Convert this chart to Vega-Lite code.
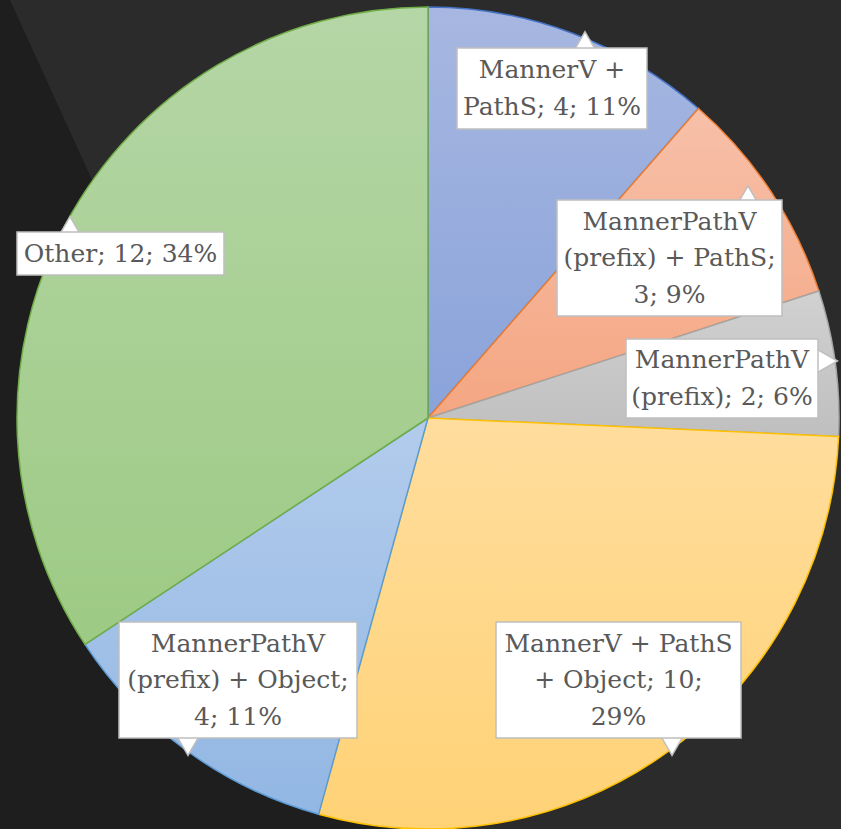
{
  "$schema": "https://vega.github.io/schema/vega-lite/v6.json",
  "width": 822,
  "height": 822,
  "autosize": "none",
  "padding": {"left": 17, "top": 7, "right": 2, "bottom": 0},
  "background": "#1e1e1e",
  "config": {"view": {"stroke": null}},
  "datasets": {
    "bg": [
      {"v": 1.1, "xl": -1.055, "xr": 1.1},
      {"v": -1.1, "xl": -0.051, "xr": 1.1}
    ],
    "slices": [
      {"label": "MannerV + PathS", "count": 4, "order": 1},
      {"label": "MannerPathV (prefix) + PathS", "count": 3, "order": 2},
      {"label": "MannerPathV (prefix)", "count": 2, "order": 3},
      {"label": "MannerV + PathS + Object", "count": 10, "order": 4},
      {"label": "MannerPathV (prefix) + Object", "count": 4, "order": 5},
      {"label": "Other", "count": 12, "order": 6}
    ],
    "boxes": [
      {"id": 1, "x1": 0.0706, "x2": 0.5328, "y1": 0.9002, "y2": 0.7032, "tx": 0.3017, "ty": 0.8461, "text": "MannerV +\nPathS; 4; 11%"},
      {"id": 2, "x1": 0.3139, "x2": 0.8613, "y1": 0.5304, "y2": 0.2482, "tx": 0.5876, "ty": 0.4781, "text": "MannerPathV\n(prefix) + PathS;\n3; 9%"},
      {"id": 3, "x1": 0.4818, "x2": 0.9489, "y1": 0.1922, "y2": 0.0, "tx": 0.7153, "ty": 0.1405, "text": "MannerPathV\n(prefix); 2; 6%"},
      {"id": 4, "x1": -1.0, "x2": -0.4964, "y1": 0.4526, "y2": 0.3479, "tx": -0.7482, "ty": 0.4002, "text": "Other; 12; 34%"},
      {"id": 5, "x1": -0.7518, "x2": -0.1727, "y1": -0.4964, "y2": -0.7786, "tx": -0.4623, "ty": -0.5487, "text": "MannerPathV\n(prefix) + Object;\n4; 11%"},
      {"id": 6, "x1": 0.1655, "x2": 0.7616, "y1": -0.4964, "y2": -0.7786, "tx": 0.4635, "ty": -0.5487, "text": "MannerV + PathS\n+ Object; 10;\n29%"}
    ],
    "pointers": [
      {"id": 1, "px": 0.382, "py": 0.912, "dir": "up"},
      {"id": 2, "px": 0.7786, "py": 0.537, "dir": "up"},
      {"id": 3, "px": 0.9684, "py": 0.1387, "dir": "right"},
      {"id": 4, "px": -0.871, "py": 0.4623, "dir": "up"},
      {"id": 5, "px": -0.584, "py": -0.7932, "dir": "down"},
      {"id": 6, "px": 0.5937, "py": -0.7932, "dir": "down"}
    ]
  },
  "layer": [
    {
      "data": {"name": "bg"},
      "mark": {"type": "area", "orient": "horizontal", "color": "#2b2b2b", "clip": false},
      "encoding": {
        "y": {"field": "v", "type": "quantitative", "scale": {"domain": [-1, 1], "nice": false, "zero": false}, "axis": null},
        "x": {"field": "xl", "type": "quantitative", "scale": {"domain": [-1, 1], "nice": false, "zero": false}, "axis": null},
        "x2": {"field": "xr"}
      }
    },
    {
      "data": {"name": "slices"},
      "transform": [
        {"stack": "count", "groupby": [], "sort": [{"field": "order", "order": "ascending"}], "as": ["t0", "t1"]}
      ],
      "encoding": {
        "theta": {"field": "t0", "type": "quantitative", "scale": {"domain": [0, 35]}},
        "theta2": {"field": "t1"}
      },
      "layer": [
        {
          "transform": [{"filter": "datum.order == 1"}],
          "mark": {"type": "arc", "strokeWidth": 1.5, "stroke": "#4472c4",
            "fill": {"gradient": "linear", "x1": 0, "y1": 0, "x2": 0, "y2": 1, "stops": [{"offset": 0, "color": "#a7b7e1"}, {"offset": 1, "color": "#8aa3da"}]}}
        },
        {
          "transform": [{"filter": "datum.order == 2"}],
          "mark": {"type": "arc", "strokeWidth": 1.5, "stroke": "#ed7d31",
            "fill": {"gradient": "linear", "x1": 0, "y1": 0, "x2": 0, "y2": 1, "stops": [{"offset": 0, "color": "#f7c0a9"}, {"offset": 1, "color": "#f4a682"}]}}
        },
        {
          "transform": [{"filter": "datum.order == 3"}],
          "mark": {"type": "arc", "strokeWidth": 1.5, "stroke": "#a5a5a5",
            "fill": {"gradient": "linear", "x1": 0, "y1": 0, "x2": 0, "y2": 1, "stops": [{"offset": 0, "color": "#d1d1d1"}, {"offset": 1, "color": "#bfbfbf"}]}}
        },
        {
          "transform": [{"filter": "datum.order == 4"}],
          "mark": {"type": "arc", "strokeWidth": 1.5, "stroke": "#ffc000",
            "fill": {"gradient": "linear", "x1": 0, "y1": 0, "x2": 0, "y2": 1, "stops": [{"offset": 0, "color": "#ffdd9d"}, {"offset": 1, "color": "#ffd276"}]}}
        },
        {
          "transform": [{"filter": "datum.order == 5"}],
          "mark": {"type": "arc", "strokeWidth": 1.5, "stroke": "#5b9bd5",
            "fill": {"gradient": "linear", "x1": 0, "y1": 0, "x2": 0, "y2": 1, "stops": [{"offset": 0, "color": "#b3ccec"}, {"offset": 1, "color": "#92b7e3"}]}}
        },
        {
          "transform": [{"filter": "datum.order == 6"}],
          "mark": {"type": "arc", "strokeWidth": 1.5, "stroke": "#70ad47",
            "fill": {"gradient": "linear", "x1": 0, "y1": 0, "x2": 0, "y2": 1, "stops": [{"offset": 0, "color": "#b5d6a6"}, {"offset": 1, "color": "#9dca84"}]}}
        }
      ]
    },
    {
      "data": {"name": "pointers"},
      "mark": {"type": "point", "filled": true, "fill": "#ffffff", "stroke": "#bfbfbf", "strokeWidth": 1.5, "opacity": 1, "size": 700},
      "encoding": {
        "x": {"field": "px", "type": "quantitative"},
        "y": {"field": "py", "type": "quantitative"},
        "shape": {"field": "dir", "type": "nominal", "legend": null, "scale": {"domain": ["up", "down", "right"], "range": ["triangle-up", "triangle-down", "triangle-right"]}}
      }
    },
    {
      "data": {"name": "boxes"},
      "mark": {"type": "rect", "fill": "#ffffff", "stroke": "#bfbfbf", "strokeWidth": 1.5},
      "encoding": {
        "x": {"field": "x1", "type": "quantitative"},
        "x2": {"field": "x2"},
        "y": {"field": "y1", "type": "quantitative"},
        "y2": {"field": "y2"}
      }
    },
    {
      "data": {"name": "boxes"},
      "mark": {"type": "text", "font": "DejaVu Serif", "fontSize": 25, "lineHeight": 36.5, "color": "#595959", "align": "center", "baseline": "middle", "lineBreak": "\n"},
      "encoding": {
        "x": {"field": "tx", "type": "quantitative"},
        "y": {"field": "ty", "type": "quantitative"},
        "text": {"field": "text", "type": "nominal"}
      }
    }
  ]
}
